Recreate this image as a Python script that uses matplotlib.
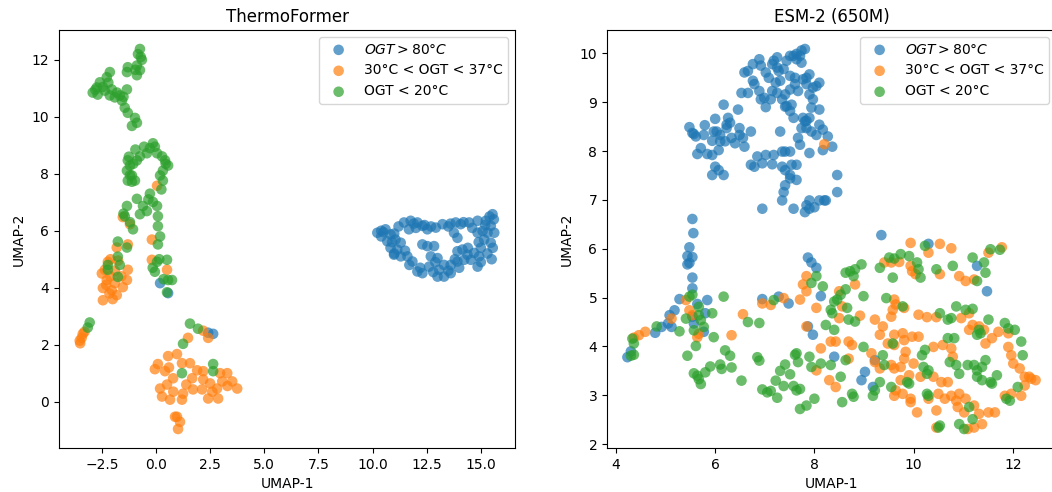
import matplotlib
matplotlib.use("Agg")
import matplotlib.pyplot as plt
import numpy as np

# ---- ThermoFormer embedding (UMAP-1, UMAP-2) ----
tf_hot = np.array([
    (10.22, 5.93), (10.60, 6.05), (10.83, 5.87), (10.68, 5.63), (10.83, 5.40), (10.99, 5.16),
    (11.30, 5.10), (11.14, 5.34), (11.30, 5.58), (11.06, 5.69), (11.45, 6.29), (11.76, 6.35),
    (12.07, 6.29), (12.30, 6.17), (12.53, 6.05), (12.92, 6.11), (13.23, 6.23), (11.68, 6.05),
    (11.61, 5.10), (11.84, 4.92), (12.07, 4.57), (12.30, 4.51), (12.61, 4.74), (12.69, 5.10),
    (12.53, 5.46), (12.30, 5.52), (12.84, 5.46), (13.00, 5.04), (13.07, 4.63), (13.00, 4.39),
    (13.30, 4.80), (13.61, 4.80), (13.92, 4.92), (13.92, 5.28), (14.15, 5.34), (14.23, 4.98),
    (14.54, 4.98), (14.85, 4.74), (14.92, 5.10), (15.00, 5.40), (15.15, 5.69), (15.31, 5.93),
    (15.46, 6.17), (15.54, 6.58), (15.23, 6.35), (14.85, 6.35), (14.46, 6.29), (14.07, 6.23),
    (13.84, 6.29), (13.76, 5.93), (13.92, 5.75), (14.85, 5.93), (15.62, 5.93), (15.46, 5.58),
    (15.08, 5.99), (14.69, 5.22), (14.38, 5.16), (13.61, 4.51), (13.30, 4.39), (10.40, 5.80),
    (11.00, 5.90), (12.00, 6.10), (13.50, 6.15), (15.30, 5.20), (15.50, 5.00), (14.00, 4.70),
    (11.50, 5.30), (12.90, 4.90), (15.60, 6.40), (10.50, 5.95), (14.60, 6.10),
    (10.40, 6.00), (10.90, 5.60), (11.20, 6.15), (11.90, 6.25), (12.40, 6.20), (11.70, 4.80),
    (12.20, 4.70), (12.80, 4.55), (13.50, 4.60), (13.80, 5.00), (14.40, 5.40), (14.90, 5.60),
    (15.20, 6.20), (15.40, 6.50), (14.20, 6.30), (13.60, 6.25), (12.70, 6.15), (11.00, 5.20),
    (15.55, 5.40), (15.00, 4.90),
    (0.19, 4.16), (0.56, 3.81), (2.64, 2.38), (2.41, 2.42),
])

tf_meso = np.array([
    (0.05, 7.58), (-1.53, 6.48), (-1.20, 6.23), (-0.19, 5.69), (-1.30, 5.52), (-1.81, 5.41),
    (-0.19, 4.98), (0.51, 4.63), (-2.22, 4.91), (-2.36, 4.63), (-1.30, 4.63), (-1.34, 4.27),
    (-2.27, 4.27), (-2.45, 3.99), (-2.04, 3.91), (-1.81, 3.74), (-2.45, 3.56), (-1.53, 4.02),
    (-1.90, 4.16), (-2.10, 4.40), (-1.60, 4.40), (-2.30, 4.10), (-1.90, 4.60), (-2.00, 3.60),
    (-2.10, 5.00), (-2.50, 4.50), (-1.75, 4.95), (-2.15, 3.80),
    (-3.38, 2.38), (-3.52, 2.14), (-3.43, 2.24), (-3.30, 2.45), (-3.50, 2.05),
    (2.18, 2.49), (1.48, 2.24), (2.41, 2.24),
    (0.56, 1.60), (0.97, 1.67), (1.20, 1.35), (1.57, 1.35), (0.09, 1.32), (-0.05, 1.14),
    (0.42, 1.07), (0.79, 0.82), (0.51, 0.60), (0.19, 0.46), (0.28, 0.18), (0.65, 0.07),
    (1.20, 0.07), (1.25, 0.28), (1.71, 0.43), (1.67, 0.82), (2.18, 0.78), (2.13, 0.43),
    (2.41, 0.11), (2.87, 0.11), (2.82, 0.46), (2.50, 0.64), (2.96, 1.00), (3.29, 1.00),
    (3.52, 0.71), (3.75, 0.46), (3.06, 0.71), (2.18, 1.07), (0.97, -0.53), (1.11, -0.71),
    (1.02, -0.96), (0.88, -0.53), (0.60, 1.20), (1.40, 0.60), (2.60, 0.35), (3.30, 0.55),
    (0.80, 0.35), (1.90, 1.10),
])

tf_cold = np.array([
    (-0.74, 12.38), (-0.83, 12.20), (-0.65, 12.00), (-0.88, 11.80), (-0.74, 11.64), (-1.30, 11.74),
    (-1.34, 11.57), (-0.88, 11.46), (-0.70, 12.10), (-0.95, 11.65),
    (-2.13, 11.57), (-2.27, 11.39), (-2.59, 11.21), (-2.73, 11.03), (-2.92, 10.85), (-2.69, 10.78),
    (-2.36, 10.92), (-2.04, 10.96), (-2.13, 10.75), (-1.90, 10.68), (-1.67, 10.75), (-1.34, 10.96),
    (-1.57, 10.57), (-1.44, 10.32), (-1.30, 10.14), (-0.97, 9.96), (-0.88, 9.79), (-1.11, 9.68),
    (-2.45, 11.05), (-2.80, 10.95), (-2.20, 11.20), (-1.80, 10.85), (-1.50, 10.70),
    (-0.14, 9.07), (-0.28, 8.90), (-0.42, 8.72), (-0.74, 8.61), (-0.88, 8.47), (-1.30, 8.47),
    (-1.20, 8.29), (-1.34, 8.11), (-1.11, 7.94), (-1.30, 7.76), (-0.97, 7.76), (0.05, 8.72),
    (0.28, 8.61), (0.42, 8.47), (0.56, 8.29), (0.32, 8.11), (0.19, 7.94), (0.32, 7.76),
    (-0.95, 8.85), (-0.55, 8.95), (-0.05, 8.95), (-1.25, 8.60), (-1.05, 8.35), (0.45, 8.35),
    (-1.20, 7.95), (0.25, 7.45), (-0.35, 7.10), (-1.50, 6.60),
    (-1.11, 7.72), (-0.88, 7.12), (-0.60, 6.87), (-0.28, 7.30), (-0.14, 7.01), (0.05, 6.87),
    (-0.42, 6.69), (-0.74, 6.58), (-1.34, 6.87), (-1.44, 6.51), (-1.20, 6.30), (-1.06, 6.05),
    (0.09, 6.51), (0.09, 6.16), (0.19, 5.80), (0.09, 5.52), (0.05, 4.91), (0.51, 4.98),
    (-0.05, 4.56), (0.56, 4.27), (0.74, 4.27), (0.51, 3.84), (-1.76, 5.62), (-1.34, 5.41),
    (-1.76, 5.09), (-1.67, 4.80), (-2.22, 4.80), (-2.22, 4.63), (-1.76, 4.38),
    (0.15, 5.00), (0.35, 4.30), (-0.15, 4.70),
    (1.57, 2.74), (1.94, 2.56), (1.25, 2.03), (1.20, 1.00), (2.64, 1.32), (2.64, 1.07),
    (-3.06, 2.78), (-3.15, 2.60),
])

# ---- ESM-2 (650M) embedding ----
esm_hot = np.array([
    (5.48, 8.49), (5.54, 8.37), (5.61, 8.30), (5.57, 8.35), (5.79, 8.53), (5.77, 8.33), (5.71, 8.06),
    (5.64, 7.94), (5.84, 7.94), (5.94, 8.21), (6.00, 8.66), (5.97, 8.40), (6.03, 8.40), (6.10, 8.33),
    (6.07, 8.02), (5.94, 7.92), (6.00, 7.68), (5.94, 7.51), (6.07, 7.61), (6.17, 7.51), (6.17, 8.95),
    (6.26, 8.68), (6.23, 8.54), (6.23, 8.47), (6.30, 8.58), (6.33, 8.27), (6.46, 8.85), (6.49, 8.47),
    (6.49, 8.33), (6.56, 8.27), (6.59, 8.09), (6.40, 8.16), (6.20, 8.20), (6.10, 8.20),
    (6.72, 8.40), (6.72, 7.72), (6.79, 7.68), (6.95, 7.75), (6.85, 7.89), (7.02, 7.92), (7.15, 7.73),
    (7.18, 7.92), (7.31, 8.40), (7.35, 7.99), (7.35, 7.68), (7.41, 7.99), (7.41, 7.61), (7.51, 7.99),
    (7.51, 7.51), (7.38, 7.16), (7.41, 7.30), (7.51, 7.44), (7.64, 7.41), (7.35, 6.99), (6.95, 6.82),
    (7.58, 6.82), (7.84, 6.89), (7.90, 6.99), (7.81, 6.75), (7.90, 6.82), (8.00, 6.85), (8.10, 6.99),
    (8.20, 6.99), (8.23, 6.99), (8.46, 7.51), (8.46, 7.16), (7.54, 7.72), (7.64, 7.72), (7.71, 8.13),
    (7.67, 8.27), (7.74, 8.47), (7.84, 8.47), (7.77, 8.68), (7.81, 8.61), (7.94, 8.40), (8.04, 8.33),
    (8.10, 8.54), (8.17, 8.44), (8.27, 8.30), (8.36, 8.09), (8.17, 8.02), (7.90, 7.96),
    (6.59, 9.61), (6.66, 9.64), (6.76, 9.78), (6.89, 9.88), (6.92, 9.75), (7.02, 9.61), (7.08, 9.50),
    (7.18, 9.85), (7.25, 9.71), (7.28, 9.64), (7.38, 9.68), (7.31, 9.44), (7.22, 9.40), (7.15, 9.23),
    (7.25, 9.19), (7.41, 9.16), (7.51, 9.26), (7.35, 9.06), (7.12, 9.06), (6.99, 9.09), (6.89, 9.23),
    (6.76, 9.44), (6.79, 9.37), (6.66, 9.19), (6.53, 9.19), (6.92, 9.06), (7.02, 8.90), (7.41, 8.91),
    (7.51, 8.82), (7.58, 8.68), (7.84, 8.62), (7.90, 8.68), (7.94, 8.89), (8.10, 8.85), (7.97, 9.06),
    (7.90, 9.16), (7.84, 9.37), (7.84, 9.50), (7.90, 9.57), (7.97, 9.30), (8.04, 9.33), (8.10, 9.40),
    (7.77, 9.47), (7.61, 9.50), (7.51, 9.54), (7.44, 9.85), (7.51, 9.95), (7.58, 9.95), (7.64, 9.99),
    (7.71, 9.95), (7.74, 10.06), (7.81, 10.09), (7.64, 9.88), (7.74, 9.81), (7.61, 9.37), (7.67, 9.23),
    (7.54, 8.95), (7.44, 8.92), (7.25, 9.92), (7.15, 9.78),
    (5.54, 6.61), (5.56, 6.32), (5.48, 6.03), (5.44, 5.85), (5.54, 5.83), (5.44, 5.68), (5.48, 5.71),
    (5.54, 5.41), (5.54, 5.19), (5.28, 4.97), (5.18, 4.74), (5.08, 4.64), (5.05, 4.47), (5.12, 4.40),
    (4.92, 4.40), (4.79, 4.28), (4.30, 3.90), (4.23, 3.78), (5.64, 4.87), (5.84, 4.95), (5.77, 4.30),
    (5.80, 4.68), (5.54, 4.61), (5.57, 4.47), (6.95, 4.97), (7.28, 5.02), (7.48, 4.88),
    (9.35, 6.28), (10.30, 6.10), (7.87, 5.82), (7.94, 5.72), (8.04, 5.61), (8.13, 5.03), (11.28, 5.65),
    (11.48, 5.13), (7.87, 4.41), (7.97, 4.24), (8.40, 3.79), (9.02, 3.48), (8.95, 3.31), (9.18, 3.17),
    (9.22, 3.72),
])

esm_meso = np.array([
    (8.20, 8.14),
    (4.36, 4.18), (4.46, 4.23), (4.59, 4.30), (5.12, 4.57), (5.41, 4.95), (5.48, 4.74), (5.54, 4.64),
    (5.64, 4.19), (5.67, 4.26), (6.33, 4.23), (6.56, 4.66), (6.95, 4.88), (7.12, 4.85), (7.38, 4.99),
    (9.94, 6.12), (10.53, 6.10), (10.76, 6.01), (10.30, 5.92), (9.41, 5.72), (9.55, 5.72), (9.71, 5.73),
    (9.94, 5.65), (9.97, 5.54), (10.04, 5.48), (10.53, 5.48), (10.92, 5.44), (11.05, 5.34), (11.22, 5.37),
    (11.51, 5.92), (11.78, 6.03), (7.84, 5.44), (7.77, 5.27), (7.84, 5.13), (7.71, 4.96), (8.04, 4.79),
    (8.50, 5.13), (8.82, 5.27), (8.56, 4.82), (8.50, 4.58), (8.92, 4.63), (9.22, 4.55), (9.38, 4.41),
    (9.55, 4.61), (9.61, 4.96), (9.64, 4.86), (9.58, 4.75), (9.81, 4.79), (10.10, 4.65), (10.27, 4.60),
    (10.46, 4.60), (9.32, 4.24), (9.61, 4.24), (9.78, 4.27), (9.97, 4.20), (9.81, 4.13), (9.61, 4.03),
    (9.48, 4.06), (9.15, 3.86), (9.22, 3.68), (9.32, 3.55), (9.55, 3.62), (9.61, 3.55), (9.74, 3.58),
    (9.81, 3.75), (9.84, 3.89), (10.00, 3.65), (9.91, 3.41), (9.74, 3.31), (9.64, 3.10), (9.61, 2.99),
    (9.78, 3.03), (9.94, 2.93), (9.94, 2.86), (10.07, 2.65), (10.46, 2.69), (10.30, 2.93), (10.50, 3.03),
    (10.63, 2.93), (10.76, 2.99), (10.92, 3.03), (11.05, 2.93), (10.89, 2.76), (11.02, 2.65), (11.22, 2.79),
    (11.32, 2.62), (11.38, 2.41), (11.22, 2.34), (11.09, 2.31), (10.46, 2.34), (11.51, 2.65), (11.64, 2.65),
    (11.84, 2.99), (11.97, 3.03), (12.17, 2.99), (12.24, 3.38), (12.33, 3.38), (12.14, 3.55), (12.01, 3.65),
    (11.97, 3.82), (11.91, 3.99), (11.91, 4.27), (11.71, 4.30), (11.58, 4.17), (11.45, 4.06), (11.32, 4.41),
    (11.42, 4.34), (11.19, 4.44), (11.12, 4.34), (11.12, 4.68), (10.96, 4.58), (10.76, 3.96), (10.79, 3.79),
    (10.59, 4.03), (10.40, 3.99), (10.10, 4.20), (10.14, 3.38), (10.40, 3.38), (10.56, 3.27), (10.69, 3.27),
    (8.13, 3.96), (8.33, 4.10), (8.43, 4.10), (8.69, 4.10), (8.76, 4.03), (8.30, 3.31), (8.43, 3.17),
    (8.04, 3.51), (7.84, 4.41), (10.86, 2.89), (12.37, 3.34), (12.46, 3.31), (12.24, 3.20), (8.69, 3.75),
])

esm_cold = np.array([
    (5.48, 5.02), (5.54, 5.06), (5.41, 4.57), (5.28, 4.31), (5.57, 4.33), (5.67, 4.81), (5.67, 4.64),
    (5.77, 4.40), (5.71, 4.54), (5.94, 4.68), (5.97, 4.19), (5.61, 4.01), (5.44, 3.81), (5.57, 3.45),
    (5.64, 3.40), (5.71, 3.23), (5.67, 3.33), (5.80, 3.47), (5.90, 3.59), (6.10, 3.63), (6.13, 3.54),
    (6.20, 3.92), (6.30, 3.81), (6.33, 3.57), (6.53, 3.30), (6.66, 4.50), (6.89, 4.48), (6.17, 5.02),
    (6.85, 3.78), (6.89, 3.71), (6.95, 3.12), (7.05, 3.06), (7.12, 3.09), (7.25, 2.95), (7.22, 3.30),
    (7.31, 3.50), (7.41, 3.63), (7.38, 3.19), (7.51, 3.43), (7.58, 3.19), (7.61, 3.83), (4.33, 4.16),
    (4.36, 4.06), (4.30, 3.81), (4.36, 3.83), (4.82, 4.41), (7.18, 4.95),
    (10.23, 6.06), (9.51, 5.82), (9.74, 5.89), (9.91, 5.85), (9.61, 5.80), (10.07, 5.72), (10.10, 5.58),
    (10.14, 5.41), (10.46, 5.58), (10.79, 5.65), (11.19, 5.82), (11.42, 5.72), (11.55, 5.99), (11.74, 5.98),
    (11.45, 5.51), (11.28, 5.34), (9.32, 5.61), (9.58, 5.41), (8.95, 5.68), (8.82, 5.58), (8.72, 5.54),
    (8.63, 5.51), (8.79, 5.44), (8.04, 5.44), (7.94, 5.30), (8.17, 5.23), (8.63, 5.17), (8.53, 5.06),
    (8.46, 4.96), (8.40, 4.92), (8.33, 4.75), (8.36, 4.68), (8.66, 4.79), (8.99, 5.03), (9.45, 4.99),
    (9.78, 4.82), (8.69, 4.55), (8.82, 4.51), (8.23, 4.44), (8.40, 4.34), (7.64, 3.86), (7.67, 3.68),
    (7.90, 3.79), (7.94, 3.58), (8.13, 3.65), (8.33, 3.62), (8.53, 3.38), (8.63, 3.72), (8.99, 3.99),
    (9.38, 3.82), (9.41, 3.62), (9.22, 3.10), (9.18, 2.99), (9.32, 3.27), (9.55, 3.17), (8.56, 2.86),
    (8.76, 3.03), (8.79, 2.97), (8.00, 2.93), (7.84, 2.79), (7.71, 2.72), (7.64, 3.10), (7.71, 3.13),
    (9.58, 4.06), (9.87, 3.27), (9.91, 3.24), (10.17, 3.82), (10.23, 3.93), (10.20, 3.58), (10.27, 3.44),
    (10.30, 3.51), (10.27, 3.03), (10.30, 2.99), (10.53, 2.38), (10.50, 2.34), (10.69, 4.17), (10.82, 4.17),
    (10.73, 3.68), (10.86, 3.62), (10.92, 3.44), (11.09, 3.62), (11.12, 2.76), (11.22, 3.62), (11.28, 3.51),
    (11.28, 3.38), (11.38, 3.58), (11.38, 3.31), (11.45, 3.72), (11.55, 3.27), (11.58, 3.24), (11.32, 4.34),
    (11.35, 4.27), (11.28, 4.24), (11.51, 4.55), (11.84, 4.48), (11.91, 4.37), (12.04, 4.34), (12.17, 4.10),
    (12.20, 3.82), (11.68, 3.41), (11.87, 2.93), (11.94, 2.89), (12.10, 3.17), (10.92, 2.41), (11.02, 2.31),
    (11.19, 2.51), (10.53, 4.68), (10.76, 4.58), (10.86, 4.82), (11.05, 4.75), (11.19, 4.77), (10.69, 4.55),
])

labels = [r"$OGT > 80°C$", "30°C < OGT < 37°C", "OGT < 20°C"]
colors = ["tab:blue", "tab:orange", "tab:green"]

fig = plt.figure(figsize=(10.52, 4.92), dpi=100)
ax1 = fig.add_axes([59 / 1052, 44 / 492, 456 / 1052, 418 / 492])
ax2 = fig.add_axes([607 / 1052, 44 / 492, 449 / 1052, 418 / 492])

panels = [
    (ax1, "ThermoFormer", [tf_hot, tf_meso, tf_cold]),
    (ax2, "ESM-2 (650M)", [esm_hot, esm_meso, esm_cold]),
]

for ax, title, groups in panels:
    for pts, lab, col in zip(groups, labels, colors):
        ax.scatter(pts[:, 0], pts[:, 1], s=58, c=col, alpha=0.7,
                   edgecolors="none", label=lab)
    ax.set_title(title, fontsize=12)
    ax.set_xlabel("UMAP-1")
    ax.set_ylabel("UMAP-2")
    ax.legend(loc="upper right")

fig.savefig("out.png", dpi=100)
